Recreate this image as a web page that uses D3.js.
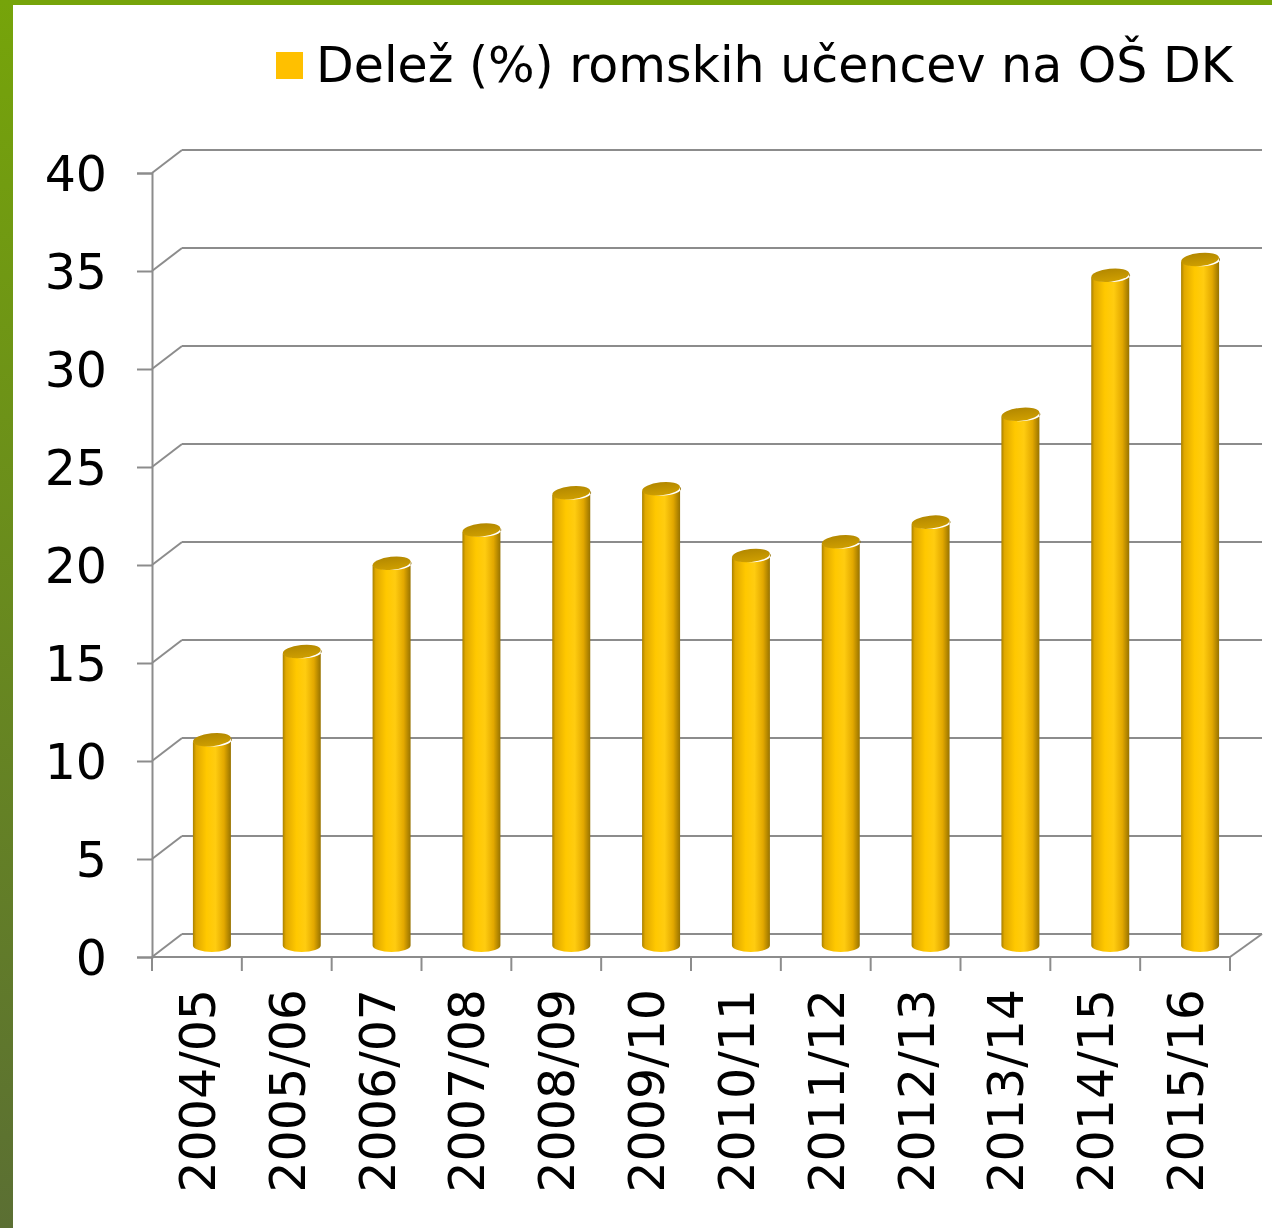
<!DOCTYPE html>
<html>
<head>
<meta charset="utf-8">
<script src="https://d3js.org/d3.v7.min.js"></script>
<style>
  body { margin: 0; background: #fff; }
  svg { display: block; }
</style>
</head>
<body>
<div id="chart"></div>
<script>
// data
var years = ["2004/05", "2005/06", "2006/07", "2007/08", "2008/09", "2009/10",
             "2010/11", "2011/12", "2012/13", "2013/14", "2014/15", "2015/16"];
var shares = [10.5, 15.0, 19.5, 21.2, 23.1, 23.3, 19.9, 20.6, 21.6, 27.1, 34.2, 35.0];
var yTicks = [0, 5, 10, 15, 20, 25, 30, 35, 40];
var seriesName = "Delež (%) romskih učencev na OŠ DK";

var W = 1272, H = 1228;
var plotLeft = 152, plotRight = 1230, plotTop = 173, plotBottom = 957;
var dx = 30, dy = -23;   // depth of the 3d box

var svg = d3.select("#chart").append("svg")
    .attr("width", W).attr("height", H);

var defs = svg.append("defs");
var side = defs.append("linearGradient").attr("id", "frame").attr("x1", 0).attr("y1", 0).attr("x2", 0).attr("y2", 1);
side.append("stop").attr("offset", "0%").attr("stop-color", "#76a40a");
side.append("stop").attr("offset", "100%").attr("stop-color", "#5b6f33");

var body = defs.append("linearGradient").attr("id", "cyl").attr("x1", 0).attr("y1", 0).attr("x2", 1).attr("y2", 0);
[["0%", "#a88000"], ["8%", "#e0a800"], ["35%", "#ffc800"], ["58%", "#ffcc10"], ["80%", "#e2a800"], ["100%", "#8e6c00"]]
  .forEach(function (s) { body.append("stop").attr("offset", s[0]).attr("stop-color", s[1]); });

var cap = defs.append("linearGradient").attr("id", "cap").attr("x1", 0).attr("y1", 0).attr("x2", 0).attr("y2", 1);
cap.append("stop").attr("offset", "0%").attr("stop-color", "#b38800");
cap.append("stop").attr("offset", "100%").attr("stop-color", "#cf9f00");

// green frame
svg.append("rect").attr("x", 0).attr("y", 0).attr("width", W).attr("height", 5).attr("fill", "#76a40a");
svg.append("rect").attr("x", 0).attr("y", 0).attr("width", 13).attr("height", H).attr("fill", "url(#frame)");

var y = d3.scaleLinear().domain([0, 40]).range([plotBottom, plotTop]);
var x = d3.scaleBand().domain(years).range([plotLeft, plotRight]);

var grid = "#8c8c8c";

// back wall gridlines + diagonals
var g = svg.append("g").attr("stroke", grid).attr("stroke-width", 2).attr("fill", "none");
yTicks.forEach(function (t) {
  g.append("line").attr("x1", plotLeft + dx).attr("x2", 1262)
    .attr("y1", y(t) + dy).attr("y2", y(t) + dy);
  g.append("line").attr("x1", plotLeft).attr("x2", plotLeft + dx)
    .attr("y1", y(t)).attr("y2", y(t) + dy);
});
// floor
g.append("line").attr("x1", plotLeft).attr("x2", plotRight).attr("y1", plotBottom).attr("y2", plotBottom);
g.append("line").attr("x1", plotRight).attr("x2", plotRight + dx + 2).attr("y1", plotBottom).attr("y2", plotBottom + dy);

// y axis
var yAxis = svg.append("g").attr("transform", "translate(" + plotLeft + ",0)")
  .call(d3.axisLeft(y).tickValues(yTicks).tickSize(15).tickPadding(30));
yAxis.select(".domain").attr("stroke", grid).attr("stroke-width", 2);
yAxis.selectAll(".tick line").attr("stroke", grid).attr("stroke-width", 2);
yAxis.selectAll(".tick text").attr("font-family", "DejaVu Sans").attr("font-size", 49)
  .attr("fill", "#000").attr("dy", "0.36em");

// x axis
var xAxis = svg.append("g").attr("transform", "translate(0," + plotBottom + ")")
  .call(d3.axisBottom(x).tickSize(0).tickPadding(0));
xAxis.select(".domain").remove();
var edges = d3.range(years.length + 1).map(function (i) { return plotLeft + i * x.step(); });
xAxis.selectAll(".edge").data(edges).enter().append("line")
  .attr("x1", function (d) { return d; }).attr("x2", function (d) { return d; })
  .attr("y1", 0).attr("y2", 14).attr("stroke", grid).attr("stroke-width", 2);
xAxis.selectAll(".tick text")
  .attr("font-family", "DejaVu Sans").attr("font-size", 49).attr("fill", "#000")
  .attr("text-anchor", "end")
  .attr("transform", "translate(18,32) rotate(-90)")
  .attr("dy", 0).attr("y", 0);

// cylinders
var rx = 19, ry = 6.5;
var bars = svg.append("g").selectAll("g").data(years).enter().append("g");
bars.append("path")
  .attr("d", function (d, i) {
    var cx = x(d) + x.bandwidth() / 2 + dx / 2;
    var y0 = y(0) + dy / 2, y1 = y(shares[i]) + dy / 2;
    return "M" + (cx - rx) + "," + (y1 + 2) + "L" + (cx - rx) + "," + y0 +
      "A" + rx + "," + ry + " 0 0 0 " + (cx + rx) + "," + y0 +
      "L" + (cx + rx) + "," + (y1 - 2) +
      "A" + rx + "," + ry + " 0 0 1 " + (cx - rx) + "," + (y1 + 2) + "Z";
  })
  .attr("fill", "url(#cyl)");
bars.append("ellipse")
  .attr("transform", function (d, i) {
    var cx = x(d) + x.bandwidth() / 2 + dx / 2;
    return "translate(" + cx + "," + (y(shares[i]) + dy / 2) + ") rotate(-6)";
  })
  .attr("rx", rx).attr("ry", ry)
  .attr("fill", "url(#cap)");

// legend
var legend = svg.append("g");
legend.append("rect").attr("x", 276).attr("y", 52).attr("width", 27).attr("height", 27).attr("fill", "#ffc000");
legend.append("text").attr("x", 316).attr("y", 82)
  .attr("font-family", "DejaVu Sans").attr("font-size", 49).attr("fill", "#000")
  .text(seriesName);
</script>
</body>
</html>
